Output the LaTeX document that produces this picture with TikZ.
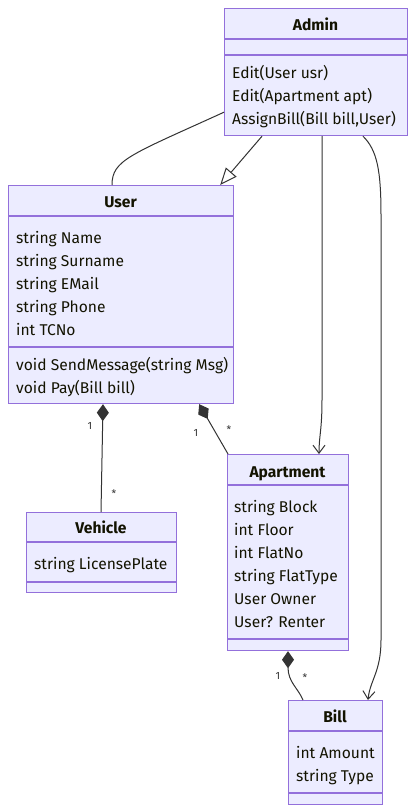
\documentclass[tikz,border=0pt]{standalone}
\usepackage{fontspec}
\setmainfont{Fira Sans}
\usetikzlibrary{calc,arrows.meta}
\definecolor{boxfill}{HTML}{ECECFF}
\definecolor{boxline}{HTML}{9370DB}
\definecolor{edgecol}{HTML}{333333}
\definecolor{txt}{HTML}{131300}
\begin{document}
\begin{tikzpicture}[x=1pt,y=-1pt,
 classbox/.style={draw=boxline,fill=boxfill,line width=1.2pt,inner sep=0pt,anchor=north west},
 divider/.style={draw=boxline,line width=1.2pt},
 member/.style={anchor=base west,inner sep=0pt,text=txt,font=\fontsize{15.6}{18}\selectfont},
 title/.style={anchor=base,inner sep=0pt,text=txt,font=\fontsize{15.6}{18}\selectfont\bfseries},
 edge/.style={draw=edgecol,line width=1pt},
 mult/.style={text=edgecol,font=\fontsize{10.5}{12}\selectfont,inner sep=0pt},
 comp/.style={{Diamond[length=17pt,width=12pt]}-},
 nav/.style={-{Straight Barb[length=8pt,width=12pt]}},
]
\useasboundingbox[fill=white] (0,0) rectangle (414,812);

% boxes
\node[classbox,minimum width=183pt,minimum height=127pt] (admin) at (224,8) {};
\node[classbox,minimum width=225pt,minimum height=218pt] (user) at (8,185) {};
\node[classbox,minimum width=150pt,minimum height=80pt] (vehicle) at (26,512) {};
\node[classbox,minimum width=121pt,minimum height=196pt] (apt) at (227,454) {};
\node[classbox,minimum width=94pt,minimum height=104pt] (bill) at (288,700) {};

% dividers
\draw[divider] ($(admin.north west)+(0,31)$) -- ($(admin.north east)+(0,31)$);
\draw[divider] ($(admin.north west)+(0,47)$) -- ($(admin.north east)+(0,47)$);
\draw[divider] ($(user.north west)+(0,31)$) -- ($(user.north east)+(0,31)$);
\draw[divider] ($(user.north west)+(0,162)$) -- ($(user.north east)+(0,162)$);
\draw[divider] ($(vehicle.north west)+(0,30)$) -- ($(vehicle.north east)+(0,30)$);
\draw[divider] ($(vehicle.north west)+(0,70)$) -- ($(vehicle.north east)+(0,70)$);
\draw[divider] ($(apt.north west)+(0,31)$) -- ($(apt.north east)+(0,31)$);
\draw[divider] ($(apt.north west)+(0,185)$) -- ($(apt.north east)+(0,185)$);
\draw[divider] ($(bill.north west)+(0,31)$) -- ($(bill.north east)+(0,31)$);
\draw[divider] ($(bill.north west)+(0,93)$) -- ($(bill.north east)+(0,93)$);

% Admin
\node[title] (adminT) at (315.5,30.5) {Admin};
\node[member] (a1) at (232,78) {Edit(User usr)};
\node[member] (a2) at (232,101) {Edit(Apartment apt)};
\node[member] (a3) at (232,124) {AssignBill(Bill bill,User)};

% User
\node[title] (userT) at (120.5,207.5) {User};
\node[member] (u1) at (16,243) {string Name};
\node[member] (u2) at (16,266) {string Surname};
\node[member] (u3) at (16,289) {string EMail};
\node[member] (u4) at (16,312) {string Phone};
\node[member] (u5) at (16,335) {int TCNo};
\node[member] (u6) at (16,370) {void SendMessage(string Msg)};
\node[member] (u7) at (16,393) {void Pay(Bill bill)};

% Vehicle
\node[title] (vehT) at (101,533.5) {Vehicle};
\node[member] (v1) at (34,569) {string LicensePlate};

% Apartment
\node[title] (aptT) at (287.5,477) {Apartment};
\node[member] (p1) at (234,512) {string Block};
\node[member] (p2) at (234,535) {int Floor};
\node[member] (p3) at (234,558) {int FlatNo};
\node[member] (p4) at (234,581) {string FlatType};
\node[member] (p5) at (234,604) {User Owner};
\node[member] (p6) at (234,627) {User? Renter};

% Bill
\node[title] (billT) at (335,722) {Bill};
\node[member] (b1) at (296,758) {int Amount};
\node[member] (b2) at (296,781) {string Type};

% edges
\draw[edge,-{Triangle[open,length=17pt,width=14pt,fill=white]}]
  ($(admin.south west)+(38,0)$) -- ($(user.north east)+(-14,0)$);
\draw[edge] ($(admin.south west)+(0,-24)$) .. controls (130,155) and (112,160) .. ($(user.north west)+(104,0)$);
\draw[edge,nav] ($(admin.south west)+(98,0)$) -- (322,400) .. controls (322,430) and (319,436) .. ($(apt.north west)+(92,0)$);
\draw[edge,nav] ($(admin.south west)+(139,0)$) .. controls (377,150) and (381,170) .. (381,215) -- (381,640) .. controls (381,672) and (370,680) .. ($(bill.north west)+(80,0)$);
\draw[edge,comp] ($(user.south west)+(95,0)$) -- ($(vehicle.north west)+(75,0)$);
\draw[edge,comp] ($(user.south east)+(-35,0)$) -- ($(apt.north west)+(1,0)$);
\draw[edge,comp] ($(apt.south west)+(61,0)$) .. controls (288,682) and (298,688) .. ($(bill.north west)+(15,0)$);

% multiplicities
\node[mult] (m1) at (90,426) {1};
\node[mult] (m2) at (114,494) {*};
\node[mult] (m3) at (196,433) {1};
\node[mult] (m4) at (229,430) {*};
\node[mult] (m5) at (278,676) {1};
\node[mult] (m6) at (305,678) {*};
\end{tikzpicture}
\end{document}
